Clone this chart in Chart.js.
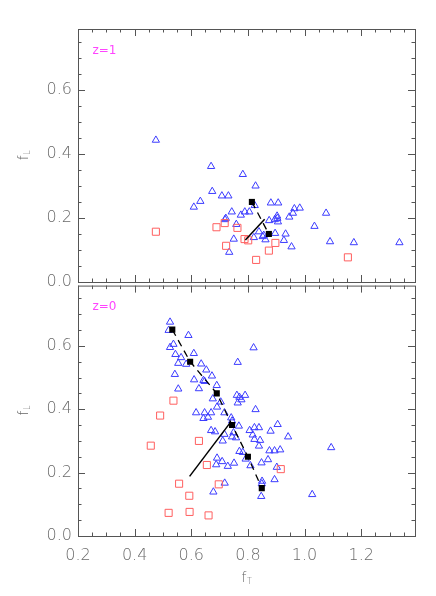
<!DOCTYPE html>
<html>
<head>
<meta charset="utf-8">
<script src="https://cdn.jsdelivr.net/npm/chart.js@4"></script>
<style>
body { margin: 0; background: #fff; }
#wrap { position: relative; width: 436px; height: 596px; }
canvas { position: absolute; left: 0; }
</style>
</head>
<body>
<div id="wrap">
<canvas id="top" width="436" height="300" style="top:0"></canvas>
<canvas id="bot" width="436" height="326" style="top:270px"></canvas>
</div>
<script>
// tick labels
const xTicks = [0.2, 0.4, 0.6, 0.8, 1.0, 1.2];
const yTicks = [0.0, 0.2, 0.4, 0.6];

// z=1 panel
const z1TriX = [0.475,0.670,0.782,0.827,0.674,0.708,0.731,0.632,0.609,0.824,0.881,0.907,0.743,0.719,0.722,0.775,0.789,0.805,0.759,0.750,0.734,0.821,0.839,0.856,0.862,0.852,0.875,0.895,0.903,0.906,0.904,0.896,0.933,0.927,0.954,0.946,0.959,0.964,0.983,1.035,1.076,1.090,1.174,1.335];
const z1TriY = [0.443,0.361,0.336,0.300,0.283,0.269,0.269,0.252,0.234,0.239,0.247,0.247,0.219,0.195,0.199,0.209,0.219,0.219,0.180,0.134,0.093,0.139,0.157,0.146,0.132,0.142,0.192,0.195,0.206,0.188,0.199,0.152,0.150,0.130,0.110,0.203,0.215,0.229,0.231,0.174,0.215,0.126,0.123,0.123];
const z1SqX = [0.475,0.689,0.718,0.763,0.723,0.788,0.801,0.829,0.874,0.897,1.153];
const z1SqY = [0.157,0.171,0.184,0.169,0.113,0.134,0.130,0.069,0.098,0.122,0.077];
const z1MedX = [0.814,0.874];
const z1MedY = [0.250,0.150];
const z1FitX = [0.791,0.859];
const z1FitY = [0.131,0.196];

// z=0 panel
const z0TriX = [0.525,0.520,0.590,0.537,0.525,0.544,0.564,0.554,0.582,0.609,0.635,0.653,0.673,0.542,0.554,0.610,0.643,0.627,0.647,0.690,0.676,0.704,0.691,0.764,0.820,0.761,0.770,0.790,0.764,0.777,0.827,0.617,0.647,0.670,0.659,0.643,0.717,0.741,0.744,0.768,0.670,0.684,0.717,0.711,0.749,0.758,0.744,0.806,0.823,0.839,0.817,0.823,0.843,0.839,0.880,0.905,0.942,0.770,0.782,0.792,0.809,0.691,0.688,0.709,0.729,0.751,0.848,0.871,0.876,0.894,0.914,0.902,0.894,0.850,0.849,0.718,0.678,0.847,1.027,1.094];
const z0TriY = [0.675,0.649,0.633,0.605,0.595,0.573,0.563,0.545,0.542,0.576,0.543,0.524,0.505,0.510,0.464,0.493,0.491,0.465,0.488,0.475,0.433,0.423,0.407,0.548,0.594,0.444,0.438,0.444,0.420,0.430,0.399,0.389,0.389,0.389,0.375,0.371,0.389,0.373,0.363,0.347,0.333,0.329,0.321,0.300,0.326,0.310,0.313,0.333,0.342,0.342,0.319,0.305,0.302,0.284,0.331,0.352,0.313,0.267,0.264,0.243,0.222,0.246,0.225,0.235,0.220,0.230,0.231,0.241,0.269,0.269,0.272,0.217,0.178,0.173,0.165,0.167,0.139,0.125,0.131,0.279];
const z0SqX = [0.537,0.490,0.457,0.627,0.655,0.557,0.697,0.593,0.916,0.520,0.594,0.661];
const z0SqY = [0.427,0.380,0.285,0.300,0.224,0.165,0.163,0.127,0.211,0.073,0.076,0.065];
const z0MedX = [0.533,0.596,0.690,0.744,0.800,0.849];
const z0MedY = [0.651,0.550,0.450,0.350,0.250,0.151];
const z0FitX = [0.594,0.737];
const z0FitY = [0.188,0.357];

const BLUE = 'rgb(60,60,255)';
const RED = 'rgb(255,95,95)';
const FONT = 'DejaVu Sans';

function pts(xs, ys) {
  return xs.map((v, i) => ({x: v, y: ys[i]}));
}

// frame, inward ticks, axis titles and panel label
const deco = {
  id: 'deco',
  afterDraw(chart, args, o) {
    const {ctx, chartArea: a, scales: {x, y}} = chart;
    ctx.save();
    ctx.strokeStyle = '#555';
    ctx.lineWidth = 1;
    ctx.strokeRect(a.left + 0.5, a.top + 0.5, a.right - a.left, a.bottom - a.top);
    ctx.beginPath();
    for (let k = 0; k <= 23; k++) {
      const px = Math.round(x.getPixelForValue(0.2 + k * 0.05)) + 0.5;
      const len = k % 4 ? 3.5 : 7;
      ctx.moveTo(px, a.top); ctx.lineTo(px, a.top + len);
      ctx.moveTo(px, a.bottom); ctx.lineTo(px, a.bottom - len);
    }
    for (let k = 0; k <= 15; k++) {
      const py = Math.round(y.getPixelForValue(k * 0.05)) + 0.5;
      const len = k % 4 ? 3.5 : 7;
      ctx.moveTo(a.left, py); ctx.lineTo(a.left + len, py);
      ctx.moveTo(a.right, py); ctx.lineTo(a.right - len, py);
    }
    ctx.stroke();

    // panel label
    ctx.fillStyle = '#ff44ff';
    ctx.font = '12px ' + FONT;
    ctx.textBaseline = 'middle';
    ctx.fillText(o.label, a.left + 14.5, a.top + 21.5);

    // f with subscript
    ctx.fillStyle = '#666';
    const sub = (cx, cy, s) => {
      ctx.font = '200 14px ' + FONT;
      const fw = ctx.measureText('f').width;
      ctx.font = '200 8px ' + FONT;
      const sw = ctx.measureText(s).width;
      const x0 = cx - (fw + sw) / 2;
      ctx.font = '200 14px ' + FONT;
      ctx.fillText('f', x0, cy);
      ctx.font = '200 8px ' + FONT;
      ctx.fillText(s, x0 + fw + 0.5, cy + 4);
    };
    ctx.save();
    ctx.translate(24, (a.top + a.bottom) / 2);
    ctx.rotate(-Math.PI / 2);
    sub(0, 0, 'L');
    ctx.restore();
    if (o.xTitle) sub((a.left + a.right) / 2, a.bottom + 42, 'T');
    ctx.restore();
  }
};

function panel(id, d, pad, showX) {
  return new Chart(document.getElementById(id), {
    type: 'scatter',
    data: {
      datasets: [
        {data: pts(d.medX, d.medY), pointStyle: 'rect', pointRadius: 4.3, backgroundColor: '#000', borderColor: '#000', borderWidth: 0, order: 0},
        {data: pts(d.medX, d.medY), showLine: true, borderDash: [7, 5], borderColor: '#000', borderWidth: 1.3, pointRadius: 0, order: 1},
        {data: pts(d.fitX, d.fitY), showLine: true, borderColor: '#000', borderWidth: 1.5, pointRadius: 0, order: 1},
        {data: pts(d.sqX, d.sqY), pointStyle: 'rect', pointRadius: 5, backgroundColor: 'rgba(0,0,0,0)', borderColor: RED, borderWidth: 1, order: 2},
        {data: pts(d.triX, d.triY), pointStyle: 'triangle', pointRadius: 4.2, backgroundColor: 'rgba(0,0,0,0)', borderColor: BLUE, borderWidth: 1, order: 3}
      ]
    },
    options: {
      responsive: false,
      animation: false,
      events: [],
      layout: {padding: pad},
      plugins: {
        legend: {display: false},
        tooltip: {enabled: false},
        deco: {label: d.label, xTitle: showX}
      },
      scales: {
        x: {
          type: 'linear', min: 0.2, max: 1.39,
          afterBuildTicks: s => { s.ticks = xTicks.map(v => ({value: v})); },
          afterFit: s => { s.height = showX ? 60 : 0; },
          ticks: {display: showX, callback: v => v.toFixed(1), font: {size: 16, family: FONT, weight: '200'}, color: '#6a6a6a', padding: 10, maxRotation: 0, autoSkip: false},
          grid: {display: false, drawTicks: false},
          border: {display: false}
        },
        y: {
          min: 0, max: 0.79,
          afterBuildTicks: s => { s.ticks = yTicks.map(v => ({value: v})); },
          afterFit: s => { s.width = 78; },
          ticks: {callback: v => v.toFixed(1), font: {size: 16, family: FONT, weight: '200'}, color: '#6a6a6a', padding: 6},
          grid: {display: false, drawTicks: false},
          border: {display: false}
        }
      }
    },
    plugins: [deco]
  });
}

panel('top', {label: 'z=1', triX: z1TriX, triY: z1TriY, sqX: z1SqX, sqY: z1SqY, medX: z1MedX, medY: z1MedY, fitX: z1FitX, fitY: z1FitY},
  {left: 0, right: 21, top: 29, bottom: 18}, false);
panel('bot', {label: 'z=0', triX: z0TriX, triY: z0TriY, sqX: z0SqX, sqY: z0SqY, medX: z0MedX, medY: z0MedY, fitX: z0FitX, fitY: z0FitY},
  {left: 0, right: 21, top: 12, bottom: 0}, true);
</script>
</body>
</html>
